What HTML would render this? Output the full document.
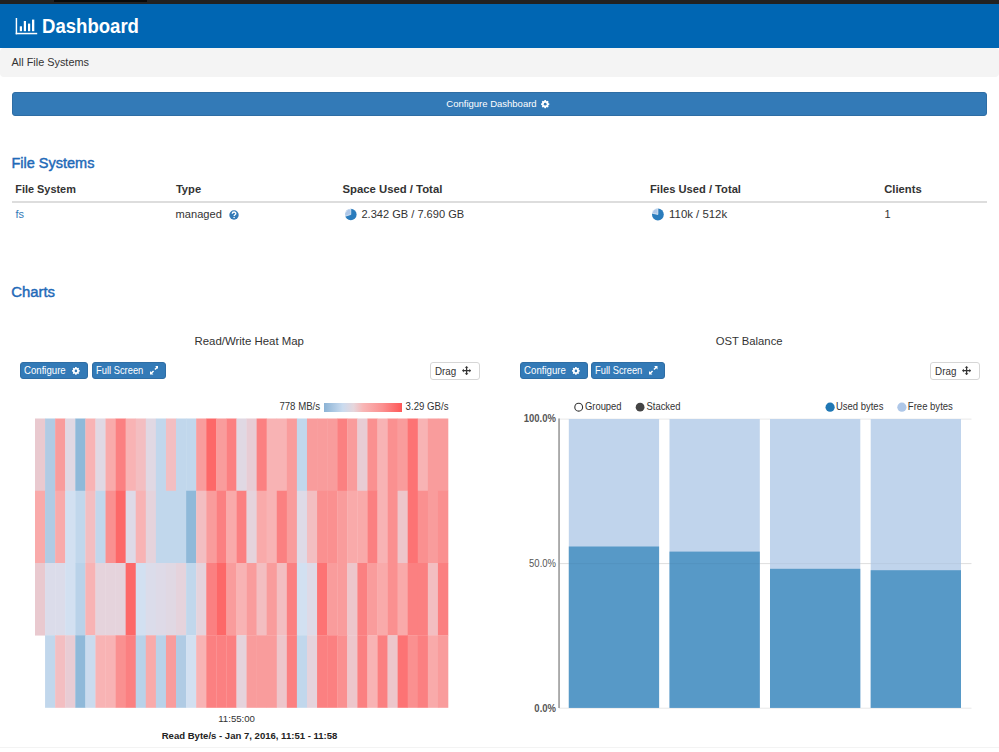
<!DOCTYPE html>
<html><head><meta charset="utf-8"><style>
html,body{margin:0;padding:0;background:#fff;width:999px;height:752px;overflow:hidden;position:relative;font-family:"Liberation Sans",sans-serif}
.a{position:absolute}
.t{position:absolute;white-space:nowrap}
.btn{position:absolute;background:#337ab7;border:1px solid #2e6da4;box-sizing:border-box;border-radius:3px}
.drag{position:absolute;border:1px solid #d6d6d6;border-radius:3px;background:#fff}
</style></head><body>
<div class="a" style="left:0;top:0;width:999px;height:3.5px;background:#222"></div>
<div class="a" style="left:54px;top:0;width:93px;height:2px;background:#090909"></div>
<div class="a" style="left:0;top:3.5px;width:999px;height:44.1px;background:#0066b3"></div>
<svg class="a" style="left:15px;top:17px" width="24" height="18" viewBox="0 0 24 18"><g fill="#fff"><rect x="0.7" y="1" width="1.45" height="16.3"/><rect x="0.7" y="15.8" width="21.5" height="1.5"/><rect x="4.8" y="9.3" width="2.2" height="4.9"/><rect x="8.8" y="4" width="2.2" height="10.2"/><rect x="13" y="6.6" width="2.2" height="7.6"/><rect x="17" y="2.6" width="2.3" height="11.6"/></g></svg>
<div class="t" style="left:42.00px;top:17.88px;font-size:18.57px;line-height:18.57px;font-weight:700;color:#fff;transform:scaleY(1.07);transform-origin:0 15.72px;">Dashboard</div>
<div class="a" style="left:0;top:48.4px;width:999px;height:28.6px;background:#f4f4f4;border-radius:4px"></div>
<div class="t" style="left:11.60px;top:57.39px;font-size:10.88px;line-height:10.88px;font-weight:400;color:#333;">All File Systems</div>
<div class="btn" style="left:11.6px;top:92.2px;width:975.4px;height:23.4px"></div>
<div class="t" style="left:446.32px;top:99.45px;font-size:9.51px;line-height:9.51px;font-weight:400;color:#fff;transform:scaleY(1.03);transform-origin:0 8.05px;">Configure Dashboard</div>
<div class="t" style="left:11.44px;top:155.52px;font-size:14.51px;line-height:14.51px;font-weight:400;color:#1f6ab8;-webkit-text-stroke:0.45px #1f6ab8;">File Systems</div>
<div class="t" style="left:15.24px;top:183.76px;font-size:10.92px;line-height:10.92px;font-weight:700;color:#333;">File System</div>
<div class="t" style="left:175.89px;top:183.54px;font-size:11.17px;line-height:11.17px;font-weight:700;color:#333;">Type</div>
<div class="t" style="left:342.46px;top:184.01px;font-size:11.33px;line-height:11.33px;font-weight:700;color:#333;">Space Used / Total</div>
<div class="t" style="left:650.02px;top:183.54px;font-size:11.17px;line-height:11.17px;font-weight:700;color:#333;">Files Used / Total</div>
<div class="t" style="left:884.25px;top:184.09px;font-size:11.23px;line-height:11.23px;font-weight:700;color:#333;">Clients</div>
<div class="a" style="left:12px;top:201px;width:975px;height:2px;background:#ddd"></div>
<div class="t" style="left:15.50px;top:209.34px;font-size:11px;line-height:11px;font-weight:400;color:#337ab7;">fs</div>
<div class="t" style="left:175.62px;top:209.26px;font-size:11.09px;line-height:11.09px;font-weight:400;color:#333;">managed</div>
<svg class="a" style="left:0;top:0" width="999" height="752"><circle cx="350.8" cy="214.5" r="5.8" fill="#2a7cbd"/><path d="M350.8 214.5L350.8 208.7A5.8 5.8 0 0 0 345.28 216.29Z" fill="#aec7e8" stroke="#fff" stroke-width="0.6"/></svg>
<div class="t" style="left:361.45px;top:209.28px;font-size:11.07px;line-height:11.07px;font-weight:400;color:#333;">2.342 GB / 7.690 GB</div>
<svg class="a" style="left:0;top:0" width="999" height="752"><circle cx="657.9" cy="214.5" r="5.9" fill="#2a7cbd"/><path d="M657.9 214.5L657.9 208.6A5.9 5.9 0 0 0 652.14 213.21Z" fill="#aec7e8" stroke="#fff" stroke-width="0.6"/></svg>
<div class="t" style="left:669.09px;top:209.00px;font-size:11.4px;line-height:11.4px;font-weight:400;color:#333;">110k / 512k</div>
<div class="t" style="left:884.50px;top:209.34px;font-size:11px;line-height:11px;font-weight:400;color:#333;">1</div>
<div class="t" style="left:11.16px;top:285.39px;font-size:14.9px;line-height:14.9px;font-weight:400;color:#1f6ab8;-webkit-text-stroke:0.45px #1f6ab8;">Charts</div>
<div class="t" style="left:194.49px;top:336.33px;font-size:11.42px;line-height:11.42px;font-weight:400;color:#333;">Read/Write Heat Map</div>
<div class="t" style="left:715.74px;top:336.45px;font-size:11.28px;line-height:11.28px;font-weight:400;color:#333;">OST Balance</div>
<div class="btn" style="left:19.70px;top:362.1px;width:68.60px;height:17.4px"></div><div class="t" style="left:24.02px;top:365.86px;font-size:9.62px;line-height:9.62px;font-weight:400;color:#fff;transform:scaleY(1.15);transform-origin:0 8.14px;">Configure</div>
<div class="btn" style="left:92.30px;top:362.1px;width:73.90px;height:17.4px"></div><div class="t" style="left:96.05px;top:366.69px;font-size:9.35px;line-height:9.35px;font-weight:400;color:#fff;transform:scaleY(1.15);transform-origin:0 7.91px;">Full Screen</div>
<div class="drag" style="left:430.2px;top:362px;width:47.80000000000001px;height:15.8px"></div><div class="t" style="left:435.00px;top:366.50px;font-size:9.8px;line-height:9.8px;font-weight:400;color:#333;transform:scaleY(1.04);transform-origin:0 8.30px;">Drag</div><svg class="a" style="left:462.0px;top:366px" width="9.2" height="9.2" viewBox="0 0 10 10"><g fill="#333"><path d="M5 0L7 2H5.7V4.3H8V3L10 5 8 7V5.7H5.7V8H7L5 10 3 8H4.3V5.7H2V7L0 5 2 3V4.3H4.3V2H3Z"/></g></svg>
<div class="btn" style="left:519.80px;top:362.1px;width:68.20px;height:17.4px"></div><div class="t" style="left:524.12px;top:365.86px;font-size:9.62px;line-height:9.62px;font-weight:400;color:#fff;transform:scaleY(1.15);transform-origin:0 8.14px;">Configure</div>
<div class="btn" style="left:591.30px;top:362.1px;width:74.00px;height:17.4px"></div><div class="t" style="left:595.05px;top:366.69px;font-size:9.35px;line-height:9.35px;font-weight:400;color:#fff;transform:scaleY(1.15);transform-origin:0 7.91px;">Full Screen</div>
<div class="drag" style="left:930.3px;top:362px;width:47.700000000000045px;height:15.8px"></div><div class="t" style="left:935.10px;top:366.50px;font-size:9.8px;line-height:9.8px;font-weight:400;color:#333;transform:scaleY(1.04);transform-origin:0 8.30px;">Drag</div><svg class="a" style="left:962.0999999999999px;top:366px" width="9.2" height="9.2" viewBox="0 0 10 10"><g fill="#333"><path d="M5 0L7 2H5.7V4.3H8V3L10 5 8 7V5.7H5.7V8H7L5 10 3 8H4.3V5.7H2V7L0 5 2 3V4.3H4.3V2H3Z"/></g></svg>
<svg class="a" style="left:539.5999999999999px;top:98.6px" width="10.4" height="10.4" viewBox="-5.2 -5.2 10.4 10.4"><polygon points="-0.66,-4.15 0.66,-4.15 1.19,-2.87 2.47,-3.40 3.40,-2.47 2.87,-1.19 4.15,-0.66 4.15,0.66 2.87,1.19 3.40,2.47 2.47,3.40 1.19,2.87 0.66,4.15 -0.66,4.15 -1.19,2.87 -2.47,3.40 -3.40,2.47 -2.87,1.19 -4.15,0.66 -4.15,-0.66 -2.87,-1.19 -3.40,-2.47 -2.47,-3.40 -1.19,-2.87" fill="#fff"/><circle r="1.39" fill="#337ab7"/></svg>
<svg class="a" style="left:71.1px;top:365.90000000000003px" width="9.8" height="9.8" viewBox="-4.9 -4.9 9.8 9.8"><polygon points="-0.61,-3.85 0.61,-3.85 1.10,-2.67 2.29,-3.16 3.16,-2.29 2.67,-1.10 3.85,-0.61 3.85,0.61 2.67,1.10 3.16,2.29 2.29,3.16 1.10,2.67 0.61,3.85 -0.61,3.85 -1.10,2.67 -2.29,3.16 -3.16,2.29 -2.67,1.10 -3.85,0.61 -3.85,-0.61 -2.67,-1.10 -3.16,-2.29 -2.29,-3.16 -1.10,-2.67" fill="#fff"/><circle r="1.29" fill="#337ab7"/></svg>
<svg class="a" style="left:571.2px;top:365.90000000000003px" width="9.8" height="9.8" viewBox="-4.9 -4.9 9.8 9.8"><polygon points="-0.61,-3.85 0.61,-3.85 1.10,-2.67 2.29,-3.16 3.16,-2.29 2.67,-1.10 3.85,-0.61 3.85,0.61 2.67,1.10 3.16,2.29 2.29,3.16 1.10,2.67 0.61,3.85 -0.61,3.85 -1.10,2.67 -2.29,3.16 -3.16,2.29 -2.67,1.10 -3.85,0.61 -3.85,-0.61 -2.67,-1.10 -3.16,-2.29 -2.29,-3.16 -1.10,-2.67" fill="#fff"/><circle r="1.29" fill="#337ab7"/></svg>
<svg class="a" style="left:149.5px;top:366.3px" width="8.5" height="8.5" viewBox="0 0 10 10"><g fill="#fff"><path d="M6 0H10V4L8.6 2.6 6.4 4.8 5.2 3.6 7.4 1.4Z"/><path d="M4 10H0V6L1.4 7.4 3.6 5.2 4.8 6.4 2.6 8.6Z"/></g></svg>
<svg class="a" style="left:649px;top:366.3px" width="8.5" height="8.5" viewBox="0 0 10 10"><g fill="#fff"><path d="M6 0H10V4L8.6 2.6 6.4 4.8 5.2 3.6 7.4 1.4Z"/><path d="M4 10H0V6L1.4 7.4 3.6 5.2 4.8 6.4 2.6 8.6Z"/></g></svg>
<div class="t" style="left:279.42px;top:401.94px;font-size:9.64px;line-height:9.64px;font-weight:400;color:#333;transform:scaleY(1.1);transform-origin:0 8.16px;">778 MB/s</div>
<div class="a" style="left:323.8px;top:403px;width:78.4px;height:8.5px;background:linear-gradient(90deg,#8bb3d5,#cadbef 24%,#e6d6dc 38%,#f8b6b6 50%,#fb9090 75%,#fe5757)"></div>
<div class="t" style="left:405.61px;top:401.92px;font-size:9.66px;line-height:9.66px;font-weight:400;color:#333;transform:scaleY(1.1);transform-origin:0 8.18px;">3.29 GB/s</div>
<svg class="a" style="left:0;top:0" width="999" height="752">
<rect x="35.00" y="418.50" width="10.37" height="72.55" fill="#e9c9cf"/>
<rect x="45.07" y="418.50" width="10.37" height="72.55" fill="#b0cbe4"/>
<rect x="55.15" y="418.50" width="10.37" height="72.55" fill="#f99c9c"/>
<rect x="65.22" y="418.50" width="10.37" height="72.55" fill="#e0d8e3"/>
<rect x="75.29" y="418.50" width="10.37" height="72.55" fill="#8fb9d9"/>
<rect x="85.37" y="418.50" width="10.37" height="72.55" fill="#f8b3b4"/>
<rect x="95.44" y="418.50" width="10.37" height="72.55" fill="#e0d8e3"/>
<rect x="105.51" y="418.50" width="10.37" height="72.55" fill="#f9aaaa"/>
<rect x="115.59" y="418.50" width="10.37" height="72.55" fill="#fb8081"/>
<rect x="125.66" y="418.50" width="10.37" height="72.55" fill="#f8b3b4"/>
<rect x="135.73" y="418.50" width="10.37" height="72.55" fill="#f3bec1"/>
<rect x="145.80" y="418.50" width="10.37" height="72.55" fill="#e0d8e3"/>
<rect x="155.88" y="418.50" width="10.37" height="72.55" fill="#c1d7ec"/>
<rect x="165.95" y="418.50" width="10.37" height="72.55" fill="#f3bec1"/>
<rect x="176.02" y="418.50" width="10.37" height="72.55" fill="#c1d7ec"/>
<rect x="186.10" y="418.50" width="10.37" height="72.55" fill="#c1d7ec"/>
<rect x="196.17" y="418.50" width="10.37" height="72.55" fill="#f99c9c"/>
<rect x="206.24" y="418.50" width="10.37" height="72.55" fill="#fd6868"/>
<rect x="216.32" y="418.50" width="10.37" height="72.55" fill="#f99c9c"/>
<rect x="226.39" y="418.50" width="10.37" height="72.55" fill="#fb8081"/>
<rect x="236.46" y="418.50" width="10.37" height="72.55" fill="#e0d8e3"/>
<rect x="246.54" y="418.50" width="10.37" height="72.55" fill="#e8ccd4"/>
<rect x="256.61" y="418.50" width="10.37" height="72.55" fill="#fb8081"/>
<rect x="266.68" y="418.50" width="10.37" height="72.55" fill="#f8b3b4"/>
<rect x="276.76" y="418.50" width="10.37" height="72.55" fill="#f8b3b4"/>
<rect x="286.83" y="418.50" width="10.37" height="72.55" fill="#f99c9c"/>
<rect x="296.90" y="418.50" width="10.37" height="72.55" fill="#c1d7ec"/>
<rect x="306.98" y="418.50" width="10.37" height="72.55" fill="#f99c9c"/>
<rect x="317.05" y="418.50" width="10.37" height="72.55" fill="#f99c9c"/>
<rect x="327.12" y="418.50" width="10.37" height="72.55" fill="#f99c9c"/>
<rect x="337.20" y="418.50" width="10.37" height="72.55" fill="#fb8081"/>
<rect x="347.27" y="418.50" width="10.37" height="72.55" fill="#f99c9c"/>
<rect x="357.34" y="418.50" width="10.37" height="72.55" fill="#e8ccd4"/>
<rect x="367.41" y="418.50" width="10.37" height="72.55" fill="#fa9090"/>
<rect x="377.49" y="418.50" width="10.37" height="72.55" fill="#f8b3b4"/>
<rect x="387.56" y="418.50" width="10.37" height="72.55" fill="#fa9090"/>
<rect x="397.63" y="418.50" width="10.37" height="72.55" fill="#f99c9c"/>
<rect x="407.71" y="418.50" width="10.37" height="72.55" fill="#fd7374"/>
<rect x="417.78" y="418.50" width="10.37" height="72.55" fill="#f8b3b4"/>
<rect x="427.85" y="418.50" width="10.37" height="72.55" fill="#f99c9c"/>
<rect x="437.93" y="418.50" width="10.37" height="72.55" fill="#f99c9c"/>
<rect x="35.00" y="490.75" width="10.37" height="72.55" fill="#f9aaaa"/>
<rect x="45.07" y="490.75" width="10.37" height="72.55" fill="#b0cbe4"/>
<rect x="55.15" y="490.75" width="10.37" height="72.55" fill="#f9aaaa"/>
<rect x="65.22" y="490.75" width="10.37" height="72.55" fill="#d2e0f1"/>
<rect x="75.29" y="490.75" width="10.37" height="72.55" fill="#c1d7ec"/>
<rect x="85.37" y="490.75" width="10.37" height="72.55" fill="#f3bec1"/>
<rect x="95.44" y="490.75" width="10.37" height="72.55" fill="#c1d7ec"/>
<rect x="105.51" y="490.75" width="10.37" height="72.55" fill="#fa9090"/>
<rect x="115.59" y="490.75" width="10.37" height="72.55" fill="#fd6868"/>
<rect x="125.66" y="490.75" width="10.37" height="72.55" fill="#dedae7"/>
<rect x="135.73" y="490.75" width="10.37" height="72.55" fill="#f8b3b4"/>
<rect x="145.80" y="490.75" width="10.37" height="72.55" fill="#e5d3dc"/>
<rect x="155.88" y="490.75" width="10.37" height="72.55" fill="#c1d7ec"/>
<rect x="165.95" y="490.75" width="10.37" height="72.55" fill="#c1d7ec"/>
<rect x="176.02" y="490.75" width="10.37" height="72.55" fill="#c1d7ec"/>
<rect x="186.10" y="490.75" width="10.37" height="72.55" fill="#8fb9d9"/>
<rect x="196.17" y="490.75" width="10.37" height="72.55" fill="#f3bec1"/>
<rect x="206.24" y="490.75" width="10.37" height="72.55" fill="#f99c9c"/>
<rect x="216.32" y="490.75" width="10.37" height="72.55" fill="#fb8081"/>
<rect x="226.39" y="490.75" width="10.37" height="72.55" fill="#f9aaaa"/>
<rect x="236.46" y="490.75" width="10.37" height="72.55" fill="#fb8081"/>
<rect x="246.54" y="490.75" width="10.37" height="72.55" fill="#e5d3dc"/>
<rect x="256.61" y="490.75" width="10.37" height="72.55" fill="#f9aaaa"/>
<rect x="266.68" y="490.75" width="10.37" height="72.55" fill="#f8b3b4"/>
<rect x="276.76" y="490.75" width="10.37" height="72.55" fill="#fb8081"/>
<rect x="286.83" y="490.75" width="10.37" height="72.55" fill="#f99c9c"/>
<rect x="296.90" y="490.75" width="10.37" height="72.55" fill="#dedae7"/>
<rect x="306.98" y="490.75" width="10.37" height="72.55" fill="#f3bec1"/>
<rect x="317.05" y="490.75" width="10.37" height="72.55" fill="#fa9090"/>
<rect x="327.12" y="490.75" width="10.37" height="72.55" fill="#fa9090"/>
<rect x="337.20" y="490.75" width="10.37" height="72.55" fill="#f99c9c"/>
<rect x="347.27" y="490.75" width="10.37" height="72.55" fill="#f9aaaa"/>
<rect x="357.34" y="490.75" width="10.37" height="72.55" fill="#f9aaaa"/>
<rect x="367.41" y="490.75" width="10.37" height="72.55" fill="#fb8081"/>
<rect x="377.49" y="490.75" width="10.37" height="72.55" fill="#f8b3b4"/>
<rect x="387.56" y="490.75" width="10.37" height="72.55" fill="#fa9090"/>
<rect x="397.63" y="490.75" width="10.37" height="72.55" fill="#edc6cb"/>
<rect x="407.71" y="490.75" width="10.37" height="72.55" fill="#fd7374"/>
<rect x="417.78" y="490.75" width="10.37" height="72.55" fill="#fa9090"/>
<rect x="427.85" y="490.75" width="10.37" height="72.55" fill="#f99c9c"/>
<rect x="437.93" y="490.75" width="10.37" height="72.55" fill="#fa9090"/>
<rect x="35.00" y="563.00" width="10.37" height="72.55" fill="#e9c9cf"/>
<rect x="45.07" y="563.00" width="10.37" height="72.55" fill="#dbdcea"/>
<rect x="55.15" y="563.00" width="10.37" height="72.55" fill="#dbdcea"/>
<rect x="65.22" y="563.00" width="10.37" height="72.55" fill="#d2e0f1"/>
<rect x="75.29" y="563.00" width="10.37" height="72.55" fill="#b9d2e9"/>
<rect x="85.37" y="563.00" width="10.37" height="72.55" fill="#f8b3b4"/>
<rect x="95.44" y="563.00" width="10.37" height="72.55" fill="#e5d3dc"/>
<rect x="105.51" y="563.00" width="10.37" height="72.55" fill="#e5d3dc"/>
<rect x="115.59" y="563.00" width="10.37" height="72.55" fill="#e5d3dc"/>
<rect x="125.66" y="563.00" width="10.37" height="72.55" fill="#fd6868"/>
<rect x="135.73" y="563.00" width="10.37" height="72.55" fill="#d2e0f1"/>
<rect x="145.80" y="563.00" width="10.37" height="72.55" fill="#dbdcea"/>
<rect x="155.88" y="563.00" width="10.37" height="72.55" fill="#dedae7"/>
<rect x="165.95" y="563.00" width="10.37" height="72.55" fill="#e0d8e3"/>
<rect x="176.02" y="563.00" width="10.37" height="72.55" fill="#e5d3dc"/>
<rect x="186.10" y="563.00" width="10.37" height="72.55" fill="#c1d7ec"/>
<rect x="196.17" y="563.00" width="10.37" height="72.55" fill="#e5d3dc"/>
<rect x="206.24" y="563.00" width="10.37" height="72.55" fill="#fb8081"/>
<rect x="216.32" y="563.00" width="10.37" height="72.55" fill="#fd6868"/>
<rect x="226.39" y="563.00" width="10.37" height="72.55" fill="#f99c9c"/>
<rect x="236.46" y="563.00" width="10.37" height="72.55" fill="#f8b3b4"/>
<rect x="246.54" y="563.00" width="10.37" height="72.55" fill="#f99c9c"/>
<rect x="256.61" y="563.00" width="10.37" height="72.55" fill="#f3bec1"/>
<rect x="266.68" y="563.00" width="10.37" height="72.55" fill="#f99c9c"/>
<rect x="276.76" y="563.00" width="10.37" height="72.55" fill="#f3bec1"/>
<rect x="286.83" y="563.00" width="10.37" height="72.55" fill="#fb8081"/>
<rect x="296.90" y="563.00" width="10.37" height="72.55" fill="#d2e0f1"/>
<rect x="306.98" y="563.00" width="10.37" height="72.55" fill="#dedae7"/>
<rect x="317.05" y="563.00" width="10.37" height="72.55" fill="#fd7374"/>
<rect x="327.12" y="563.00" width="10.37" height="72.55" fill="#f99c9c"/>
<rect x="337.20" y="563.00" width="10.37" height="72.55" fill="#f99c9c"/>
<rect x="347.27" y="563.00" width="10.37" height="72.55" fill="#edc6cb"/>
<rect x="357.34" y="563.00" width="10.37" height="72.55" fill="#fb8081"/>
<rect x="367.41" y="563.00" width="10.37" height="72.55" fill="#f99c9c"/>
<rect x="377.49" y="563.00" width="10.37" height="72.55" fill="#f9aaaa"/>
<rect x="387.56" y="563.00" width="10.37" height="72.55" fill="#fa9090"/>
<rect x="397.63" y="563.00" width="10.37" height="72.55" fill="#f9aaaa"/>
<rect x="407.71" y="563.00" width="10.37" height="72.55" fill="#fb8081"/>
<rect x="417.78" y="563.00" width="10.37" height="72.55" fill="#fb8081"/>
<rect x="427.85" y="563.00" width="10.37" height="72.55" fill="#f3bec1"/>
<rect x="437.93" y="563.00" width="10.37" height="72.55" fill="#fb8081"/>
<rect x="45.07" y="635.25" width="10.37" height="72.55" fill="#c1d7ec"/>
<rect x="55.15" y="635.25" width="10.37" height="72.55" fill="#f3bec1"/>
<rect x="65.22" y="635.25" width="10.37" height="72.55" fill="#e8ccd4"/>
<rect x="75.29" y="635.25" width="10.37" height="72.55" fill="#8fb9d9"/>
<rect x="85.37" y="635.25" width="10.37" height="72.55" fill="#cadbee"/>
<rect x="95.44" y="635.25" width="10.37" height="72.55" fill="#f8b3b4"/>
<rect x="105.51" y="635.25" width="10.37" height="72.55" fill="#f8b3b4"/>
<rect x="115.59" y="635.25" width="10.37" height="72.55" fill="#fa9090"/>
<rect x="125.66" y="635.25" width="10.37" height="72.55" fill="#fb8081"/>
<rect x="135.73" y="635.25" width="10.37" height="72.55" fill="#b9d2e9"/>
<rect x="145.80" y="635.25" width="10.37" height="72.55" fill="#f9aaaa"/>
<rect x="155.88" y="635.25" width="10.37" height="72.55" fill="#b9d2e9"/>
<rect x="165.95" y="635.25" width="10.37" height="72.55" fill="#f99c9c"/>
<rect x="176.02" y="635.25" width="10.37" height="72.55" fill="#b0cbe4"/>
<rect x="186.10" y="635.25" width="10.37" height="72.55" fill="#d2e0f1"/>
<rect x="196.17" y="635.25" width="10.37" height="72.55" fill="#f8b3b4"/>
<rect x="206.24" y="635.25" width="10.37" height="72.55" fill="#fb8081"/>
<rect x="216.32" y="635.25" width="10.37" height="72.55" fill="#fb8081"/>
<rect x="226.39" y="635.25" width="10.37" height="72.55" fill="#fb8081"/>
<rect x="236.46" y="635.25" width="10.37" height="72.55" fill="#e5d3dc"/>
<rect x="246.54" y="635.25" width="10.37" height="72.55" fill="#f99c9c"/>
<rect x="256.61" y="635.25" width="10.37" height="72.55" fill="#f99c9c"/>
<rect x="266.68" y="635.25" width="10.37" height="72.55" fill="#f99c9c"/>
<rect x="276.76" y="635.25" width="10.37" height="72.55" fill="#edc6cb"/>
<rect x="286.83" y="635.25" width="10.37" height="72.55" fill="#fb8081"/>
<rect x="296.90" y="635.25" width="10.37" height="72.55" fill="#c1d7ec"/>
<rect x="306.98" y="635.25" width="10.37" height="72.55" fill="#e5d3dc"/>
<rect x="317.05" y="635.25" width="10.37" height="72.55" fill="#fb8081"/>
<rect x="327.12" y="635.25" width="10.37" height="72.55" fill="#fb8081"/>
<rect x="337.20" y="635.25" width="10.37" height="72.55" fill="#fa9090"/>
<rect x="347.27" y="635.25" width="10.37" height="72.55" fill="#edc6cb"/>
<rect x="357.34" y="635.25" width="10.37" height="72.55" fill="#fb8081"/>
<rect x="367.41" y="635.25" width="10.37" height="72.55" fill="#f8b3b4"/>
<rect x="377.49" y="635.25" width="10.37" height="72.55" fill="#fb8081"/>
<rect x="387.56" y="635.25" width="10.37" height="72.55" fill="#edc6cb"/>
<rect x="397.63" y="635.25" width="10.37" height="72.55" fill="#fd7374"/>
<rect x="407.71" y="635.25" width="10.37" height="72.55" fill="#fa9090"/>
<rect x="417.78" y="635.25" width="10.37" height="72.55" fill="#fb8081"/>
<rect x="427.85" y="635.25" width="10.37" height="72.55" fill="#f9aaaa"/>
<rect x="437.93" y="635.25" width="10.37" height="72.55" fill="#f99c9c"/>
</svg>
<div class="t" style="left:218.23px;top:713.83px;font-size:9.65px;line-height:9.65px;font-weight:400;color:#333;">11:55:00</div>
<div class="t" style="left:161.73px;top:731.12px;font-size:9.55px;line-height:9.55px;font-weight:700;color:#222;">Read Byte/s - Jan 7, 2016, 11:51 - 11:58</div>
<div class="a" style="left:0;top:747px;width:999px;height:1px;background:#f3f3f3"></div>
<svg class="a" style="left:0;top:0" width="999" height="752">
<g stroke="#e8e8e8" stroke-width="1"><line x1="559" y1="419.1" x2="971.5" y2="419.1"/><line x1="559" y1="563.6" x2="971.5" y2="563.6"/><line x1="559" y1="708.2" x2="971.5" y2="708.2"/></g>
<rect x="568.8" y="419" width="90.3" height="288.9" fill="#c0d4ec"/>
<rect x="669.5" y="419" width="90.3" height="288.9" fill="#c0d4ec"/>
<rect x="770" y="419" width="90.3" height="288.9" fill="#c0d4ec"/>
<rect x="870.7" y="419" width="90.3" height="288.9" fill="#c0d4ec"/>
<rect x="568.8" y="546.5" width="90.3" height="161.4" fill="#5799c7"/>
<rect x="669.5" y="551.6" width="90.3" height="156.3" fill="#5799c7"/>
<rect x="770" y="568.8" width="90.3" height="139.1" fill="#5799c7"/>
<rect x="870.7" y="570.2" width="90.3" height="137.7" fill="#5799c7"/>
<g stroke="rgba(0,0,0,0.045)" stroke-width="1"><line x1="559" y1="563.6" x2="971.5" y2="563.6"/></g>
<line x1="559.05" y1="418.6" x2="559.05" y2="707.9" stroke="#a0a0a0" stroke-width="1.7"/>
<circle cx="578.7" cy="407.2" r="3.9" fill="#fff" stroke="#333" stroke-width="1.1"/>
<circle cx="640.1" cy="407.2" r="4.4" fill="#444"/>
<circle cx="830.1" cy="407.2" r="4.6" fill="#1f77b4"/>
<circle cx="901.9" cy="407.2" r="4.6" fill="#aec7e8"/>
</svg>
<div class="t" style="left:584.93px;top:401.51px;font-size:9.44px;line-height:9.44px;font-weight:400;color:#333;transform:scaleY(1.1);transform-origin:0 7.99px;">Grouped</div>
<div class="t" style="left:646.53px;top:401.91px;font-size:9.44px;line-height:9.44px;font-weight:400;color:#333;transform:scaleY(1.1);transform-origin:0 7.99px;">Stacked</div>
<div class="t" style="left:835.94px;top:402.07px;font-size:9.49px;line-height:9.49px;font-weight:400;color:#333;transform:scaleY(1.1);transform-origin:0 8.03px;">Used bytes</div>
<div class="t" style="left:907.84px;top:402.02px;font-size:9.54px;line-height:9.54px;font-weight:400;color:#333;transform:scaleY(1.1);transform-origin:0 8.08px;">Free bytes</div>
<div class="t" style="right:443px;top:413.96px;font-size:9.5px;line-height:9.5px;font-weight:700;color:#555;transform:scaleY(1.15);transform-origin:0 8.04px">100.0%</div>
<div class="t" style="right:443px;top:558.96px;font-size:9.5px;line-height:9.5px;font-weight:400;color:#555;transform:scaleY(1.15);transform-origin:0 8.04px">50.0%</div>
<div class="t" style="right:443px;top:703.76px;font-size:9.5px;line-height:9.5px;font-weight:700;color:#555;transform:scaleY(1.15);transform-origin:0 8.04px">0.0%</div>
<svg class="a" style="left:228.9px;top:209.7px" width="10" height="10" viewBox="-5 -5 10 10"><circle r="4.7" fill="#337ab7"/><path d="M-1.75 -1.2C-1.75 -2.5 -0.9 -3 0.05 -3 1.1 -3 1.8 -2.4 1.8 -1.5 1.8 -0.3 0.1 -0.3 0.1 1" fill="none" stroke="#fff" stroke-width="1.35"/><circle cx="0.1" cy="2.45" r="0.8" fill="#fff"/></svg>
</body></html>
